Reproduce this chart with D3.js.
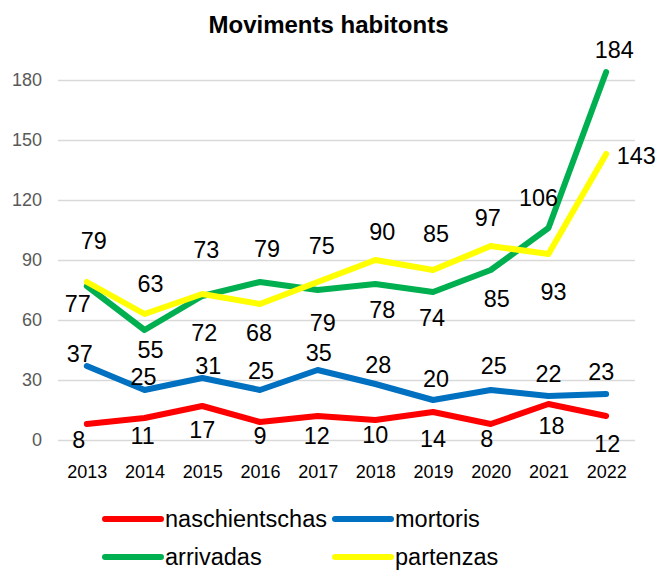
<!DOCTYPE html>
<html>
<head>
<meta charset="utf-8">
<script src="https://cdn.jsdelivr.net/npm/d3@7"></script>
<style>
  body { margin: 0; background: #fff; }
  svg { display: block; font-family: "Liberation Sans", Arial, sans-serif; }
</style>
</head>
<body>
<div id="chart"></div>
<script>
// data
const years = [2013, 2014, 2015, 2016, 2017, 2018, 2019, 2020, 2021, 2022];
const naschientschas = [8, 11, 17, 9, 12, 10, 14, 8, 18, 12];
const mortoris = [37, 25, 31, 25, 35, 28, 20, 25, 22, 23];
const arrivadas = [77, 55, 72, 79, 75, 78, 74, 85, 106, 184];
const partenzas = [79, 63, 73, 68, 79, 90, 85, 97, 93, 143];
const yTicks = [0, 30, 60, 90, 120, 150, 180];

// hand placed data labels (offset from the point, px)
const nudgeNasch = [[-8, 16], [-2, 18], [0, 24], [0, 14], [-1, 20], [0, 15], [0, 27], [-4, 15], [3, 22], [1, 28]];
const nudgeMort = [[-7, -12], [-1, -13], [6, -12], [1, -19], [1, -17], [3, -19], [3, -21], [3, -24], [0, -22], [-5, -22]];
const nudgeArr = [[-9, 18], [6, 20], [2, 37], [7, -33], [4, -44], [7, 26], [-1, 26], [6, 29], [-10, -30], [8, -22]];
const nudgePart = [[7, -41], [6, -30], [4, -44], [-1, 29], [5, 41], [7, -28], [3, -36], [-3, -28], [5, 38], [30, 2]];

const series = [
  {name: "naschientschas", values: naschientschas, color: "#ff0000", nudge: nudgeNasch},
  {name: "mortoris", values: mortoris, color: "#0070c0", nudge: nudgeMort},
  {name: "arrivadas", values: arrivadas, color: "#00b050", nudge: nudgeArr},
  {name: "partenzas", values: partenzas, color: "#ffff00", nudge: nudgePart}
];

const width = 657, height = 571;
const margin = {top: 80, right: 22, bottom: 131, left: 58};
const labelSize = 23.4;

const svg = d3.select("#chart").append("svg")
  .attr("width", width)
  .attr("height", height);

const x = d3.scalePoint()
  .domain(years)
  .range([margin.left, width - margin.right])
  .padding(0.5);

const y = d3.scaleLinear()
  .domain([0, 180])
  .range([height - margin.bottom, margin.top]);

// title
svg.append("text")
  .attr("x", 328.5)
  .attr("y", 33)
  .attr("text-anchor", "middle")
  .style("font-size", "24px")
  .style("font-weight", "bold")
  .text("Moviments habitonts");

// y axis + gridlines
const yAxis = svg.append("g")
  .attr("transform", `translate(${margin.left},0)`)
  .call(d3.axisLeft(y).tickValues(yTicks)
    .tickSize(-(width - margin.left - margin.right))
    .tickPadding(16));
yAxis.select(".domain").remove();
yAxis.selectAll("line").attr("stroke", "#d9d9d9").attr("stroke-width", 1.5);
yAxis.selectAll("text")
  .attr("fill", "#595959")
  .style("font-size", "18px")
  .style("font-family", "Liberation Sans, Arial, sans-serif");

// x axis
const xAxis = svg.append("g")
  .attr("transform", `translate(0,${y(0)})`)
  .call(d3.axisBottom(x).tickSize(0).tickPadding(25.5));
xAxis.select(".domain").remove();
xAxis.selectAll("text")
  .attr("fill", "#000")
  .style("font-size", "18px")
  .style("font-family", "Liberation Sans, Arial, sans-serif");

const line = d3.line()
  .x((d, i) => x(years[i]))
  .y(d => y(d));

// lines, in series order so yellow lands on top
series.forEach(s => {
  svg.append("path")
    .datum(s.values)
    .attr("fill", "none")
    .attr("stroke", s.color)
    .attr("stroke-width", 6)
    .attr("stroke-linejoin", "round")
    .attr("stroke-linecap", "round")
    .attr("d", line);
});

// data labels
series.forEach(s => {
  svg.append("g").selectAll("text")
    .data(s.values)
    .enter().append("text")
    .attr("x", (d, i) => x(years[i]) + s.nudge[i][0])
    .attr("y", (d, i) => y(d) + s.nudge[i][1] + labelSize * 0.358)
    .attr("text-anchor", "middle")
    .style("font-size", labelSize + "px")
    .text(d => d);
});

// legend, two per row
const legend = svg.append("g");
series.forEach((s, i) => {
  const lx = i % 2 === 0 ? 105 : 335;
  const ly = 519 + Math.floor(i / 2) * 38;
  legend.append("line")
    .attr("x1", lx).attr("x2", lx + 56)
    .attr("y1", ly).attr("y2", ly)
    .attr("stroke", s.color)
    .attr("stroke-width", 6)
    .attr("stroke-linecap", "round");
  legend.append("text")
    .attr("x", lx + 60)
    .attr("y", ly + 8)
    .style("font-size", "23.5px")
    .text(s.name);
});
</script>
</body>
</html>
